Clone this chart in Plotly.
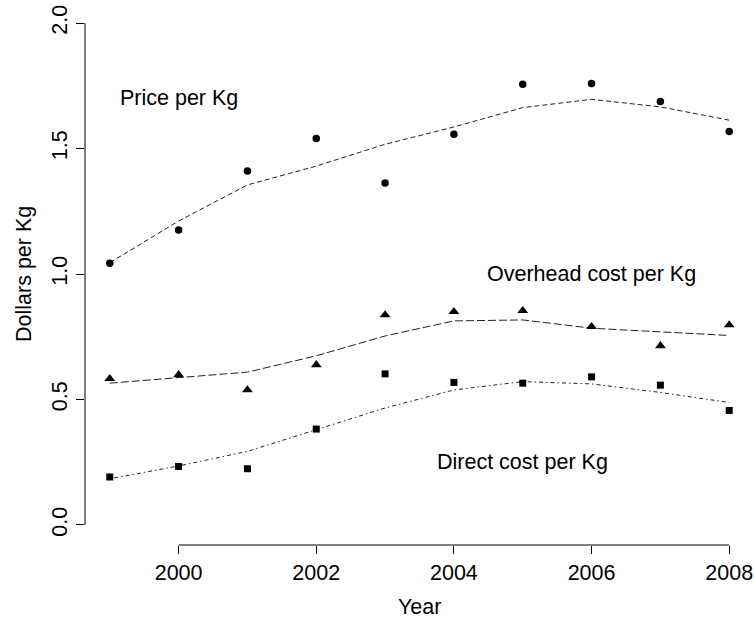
import plotly.graph_objects as go

years = [1999, 2000, 2001, 2002, 2003, 2004, 2005, 2006, 2007, 2008]

price = [1.043, 1.175, 1.410, 1.540, 1.363, 1.557, 1.756, 1.759, 1.687, 1.568]
price_smooth = [1.045, 1.211, 1.355, 1.430, 1.517, 1.586, 1.663, 1.696, 1.666, 1.613]

overhead = [0.583, 0.598, 0.538, 0.638, 0.837, 0.850, 0.854, 0.790, 0.714, 0.797]
overhead_smooth = [0.565, 0.587, 0.609, 0.674, 0.753, 0.813, 0.817, 0.784, 0.770, 0.755]

direct = [0.191, 0.233, 0.224, 0.382, 0.602, 0.568, 0.565, 0.590, 0.557, 0.456]
direct_smooth = [0.184, 0.235, 0.293, 0.379, 0.466, 0.538, 0.571, 0.562, 0.528, 0.488]

x_ticks = [2000, 2002, 2004, 2006, 2008]
y_ticks = [0.0, 0.5, 1.0, 1.5, 2.0]
y_tick_labels = ["0.0", "0.5", "1.0", "1.5", "2.0"]

labels = [
    ("Price per Kg", 2000, 1.70),
    ("Overhead cost per Kg", 2006, 1.00),
    ("Direct cost per Kg", 2005, 0.25),
]

FONT = "Liberation Sans, Arial, sans-serif"
FS = 21.5

fig = go.Figure()

series = [
    (price, price_smooth, "circle", 7.5, "5px,3px"),
    (overhead, overhead_smooth, "triangle-up", 9.5, "8px,3px"),
    (direct, direct_smooth, "square", 7, "1.5px,3px,4px,3px"),
]
for pts, sm, sym, sz, dash in series:
    fig.add_trace(go.Scatter(x=years, y=sm, mode="lines",
                             line=dict(color="#222222", width=1, dash=dash),
                             showlegend=False, hoverinfo="skip"))
    fig.add_trace(go.Scatter(x=years, y=pts, mode="markers",
                             marker=dict(symbol=sym, size=sz, color="black",
                                         line=dict(width=0)),
                             showlegend=False))

for txt, lx, ly in labels:
    fig.add_annotation(x=lx, y=ly, xref="x", yref="y", text=txt,
                       showarrow=False, xanchor="center", yanchor="middle",
                       font=dict(family=FONT, size=FS, color="black"))

# axis titles
fig.add_annotation(x=0.5, y=-0.1393, xref="paper", yref="paper", text="Year",
                   showarrow=False, xanchor="center", yanchor="bottom",
                   font=dict(family=FONT, size=FS, color="black"))
fig.add_annotation(x=-0.0912, y=0.5, xref="paper", yref="paper",
                   text="Dollars per Kg", textangle=-90,
                   showarrow=False, xanchor="center", yanchor="middle",
                   font=dict(family=FONT, size=FS, color="black"))

# R-style axis lines spanning first to last tick
fig.add_shape(type="line", xref="x", yref="paper",
              x0=x_ticks[0], x1=x_ticks[-1], y0=0, y1=0,
              line=dict(color="black", width=1))
fig.add_shape(type="line", xref="paper", yref="y",
              x0=0, x1=0, y0=y_ticks[0], y1=y_ticks[-1],
              line=dict(color="black", width=1))

fig.update_xaxes(range=[1998.64, 2008.36], tickvals=x_ticks, automargin=False,
                 ticks="outside", ticklen=8, tickwidth=1, tickcolor="black",
                 showline=False, showgrid=False, zeroline=False,
                 tickfont=dict(family=FONT, size=FS, color="black"))
fig.update_yaxes(range=[-0.08, 2.08], tickvals=y_ticks, ticktext=y_tick_labels,
                 tickangle=-90, automargin=False,
                 ticks="outside", ticklen=8, tickwidth=1, tickcolor="black",
                 showline=False, showgrid=False, zeroline=False,
                 tickfont=dict(family=FONT, size=FS, color="black"))

fig.update_layout(width=754, height=621, autosize=False,
                  margin=dict(l=85, r=0, t=3, b=76, pad=0),
                  paper_bgcolor="white", plot_bgcolor="white")

fig.write_html("out.html",
               config={"displayModeBar": False},
               post_script="document.body.style.margin='0px';document.body.style.overflow='hidden';")
